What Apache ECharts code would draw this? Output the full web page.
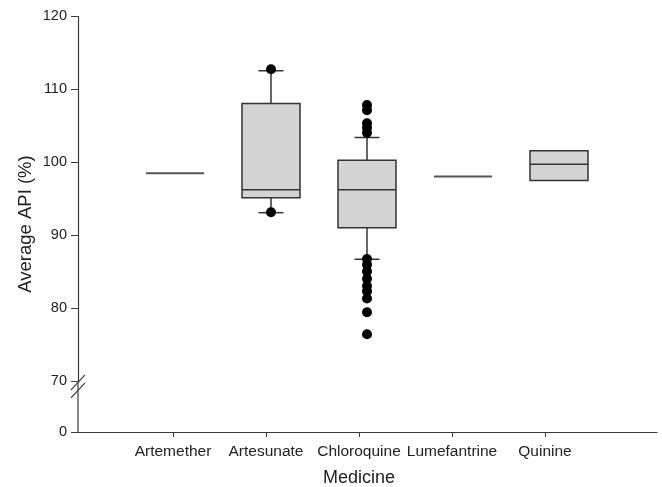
<!DOCTYPE html>
<html><head><meta charset="utf-8">
<script src="https://cdn.jsdelivr.net/npm/echarts@6/dist/echarts.min.js"></script>
<style>html,body{margin:0;padding:0;background:#fff}#c{width:662px;height:487px}</style>
</head><body><div id="c"></div>
<script>
// ---- data ----
const categories = ['Artemether', 'Artesunate', 'Chloroquine', 'Lumefantrine', 'Quinine'];
const whiskerLow  = [98.45, 93.05, 86.67, 98.0, 97.45];
const quart1      = [98.45, 95.1, 91.0, 98.0, 97.45];
const medians     = [98.45, 96.2, 96.2, 98.0, 99.7];
const quart3      = [98.45, 108.0, 100.25, 98.0, 101.55];
const whiskerHigh = [98.45, 112.5, 103.35, 98.0, 101.55];
const outlierCategory = [1, 1, 2, 2, 2, 2, 2, 2, 2, 2, 2, 2, 2, 2, 2, 2];
const outlierValue = [112.7, 93.1, 107.8, 107.1, 105.3, 104.7, 104.0,
                      86.7, 85.9, 85.0, 84.0, 83.0, 82.3, 81.3, 79.4, 76.4];
const yMin = 0, yMax = 120, yInterval = 10;
const breakStart = 0, breakEnd = 70, breakGap = 7;
const xTitle = 'Medicine', yTitle = 'Average API (%)';

// ---- chart ----
const FONT = 'Arial, "Liberation Sans", sans-serif';
const AX = '#3a3a3a';
const chart = echarts.init(document.getElementById('c'), null, {renderer: 'canvas'});

const boxData = categories.map((c, i) => [i, whiskerLow[i], quart1[i], medians[i], quart3[i], whiskerHigh[i]]);
const outData = outlierCategory.map((c, i) => [c, outlierValue[i]]);

function yAxisBase(extra) {
  return Object.assign({
    type: 'value', min: yMin, max: yMax, interval: yInterval,
    breaks: [{start: breakStart, end: breakEnd, gap: breakGap}],
    breakArea: {show: false},
    splitLine: {show: false}
  }, extra);
}

function renderBox(params, api) {
  const x = api.value(0);
  const lo = api.coord([x, api.value(1)]);
  const a = api.coord([x, api.value(2)]);
  const m = api.coord([x, api.value(3)]);
  const b = api.coord([x, api.value(4)]);
  const hi = api.coord([x, api.value(5)]);
  const cx = lo[0], hw = 29, cw = 12.5;
  const ls = {stroke: '#333', lineWidth: 1.5};
  const ch = [];
  if (Math.abs(a[1] - b[1]) < 1) {
    ch.push({type: 'line', shape: {x1: cx - hw, y1: m[1], x2: cx + hw, y2: m[1]}, style: {stroke: '#555', lineWidth: 2}});
    return {type: 'group', children: ch};
  }
  if (Math.abs(hi[1] - b[1]) > 0.5) {
    ch.push({type: 'line', shape: {x1: cx, y1: b[1], x2: cx, y2: hi[1]}, style: ls});
    ch.push({type: 'line', shape: {x1: cx - cw, y1: hi[1], x2: cx + cw, y2: hi[1]}, style: ls});
  }
  if (Math.abs(lo[1] - a[1]) > 0.5) {
    ch.push({type: 'line', shape: {x1: cx, y1: a[1], x2: cx, y2: lo[1]}, style: ls});
    ch.push({type: 'line', shape: {x1: cx - cw, y1: lo[1], x2: cx + cw, y2: lo[1]}, style: ls});
  }
  ch.push({type: 'rect', shape: {x: cx - hw, y: b[1], width: 2 * hw, height: a[1] - b[1]}, style: {fill: '#d3d3d3', stroke: '#333', lineWidth: 1.5}});
  ch.push({type: 'line', shape: {x1: cx - hw, y1: m[1], x2: cx + hw, y2: m[1]}, style: ls});
  return {type: 'group', children: ch};
}

const gridCommon = {top: 16, bottom: 55, containLabel: false, outerBoundsMode: 'none'};
const option = {
  animation: false,
  backgroundColor: '#fff',
  textStyle: {fontFamily: FONT},
  grid: [
    Object.assign({left: 78, right: 5}, gridCommon),
    Object.assign({left: 126.5, width: 465}, gridCommon),
    Object.assign({left: 127, width: 480}, gridCommon)
  ],
  xAxis: [
    {gridIndex: 0, type: 'value', min: 0, max: 1, axisLine: {show: true, onZero: false, lineStyle: {color: AX, width: 1.2}},
     axisTick: {show: false}, axisLabel: {show: false}, splitLine: {show: false}},
    {gridIndex: 1, type: 'category', data: categories, axisLine: {show: false, onZero: false},
     axisTick: {show: true, inside: false, alignWithLabel: true, interval: 0, length: 5, lineStyle: {color: AX}},
     axisLabel: {interval: 0, fontSize: 15.5, color: '#222', margin: 12, fontFamily: FONT},
     name: xTitle, nameLocation: 'middle', nameGap: 37, nameMoveOverlap: false,
     nameTextStyle: {fontSize: 18, color: '#222', fontFamily: FONT}},
    {gridIndex: 2, type: 'category', data: categories, show: false}
  ],
  yAxis: [
    yAxisBase({gridIndex: 0, axisLine: {show: true, lineStyle: {color: AX, width: 1.2}},
      axisTick: {show: true, length: 7, lineStyle: {color: AX}},
      axisLabel: {fontSize: 14.5, color: '#222', margin: 11, fontFamily: FONT},
      name: yTitle, nameLocation: 'middle', nameGap: 43, nameRotate: 90, nameMoveOverlap: false,
      nameTextStyle: {fontSize: 18.5, color: '#222', fontFamily: FONT}}),
    yAxisBase({gridIndex: 1, show: false}),
    yAxisBase({gridIndex: 2, show: false})
  ],
  series: [
    {type: 'custom', xAxisIndex: 2, yAxisIndex: 2, data: boxData, renderItem: renderBox, z: 2},
    {type: 'scatter', xAxisIndex: 2, yAxisIndex: 2, data: outData, symbol: 'circle', symbolSize: 10,
     itemStyle: {color: '#000', opacity: 1}, z: 3}
  ]
};
chart.setOption(option);

// axis line through the break and the // break marks, placed through the axis scale
const p70 = chart.convertToPixel({xAxisIndex: 0, yAxisIndex: 0}, [0, breakEnd]);
const p0 = chart.convertToPixel({xAxisIndex: 0, yAxisIndex: 0}, [0, breakStart]);
const ax = p70[0], ay = p70[1] + 5;
chart.setOption({
  graphic: [
    {type: 'line', shape: {x1: ax, y1: p70[1], x2: ax, y2: p0[1]}, style: {stroke: AX, lineWidth: 1.2}},
    {type: 'line', shape: {x1: ax - 7, y1: ay + 4, x2: ax + 7, y2: ay - 11}, style: {stroke: AX, lineWidth: 1.2}},
    {type: 'line', shape: {x1: ax - 7, y1: ay + 12, x2: ax + 7, y2: ay - 3}, style: {stroke: AX, lineWidth: 1.2}}
  ]
});
</script>
</body></html>
